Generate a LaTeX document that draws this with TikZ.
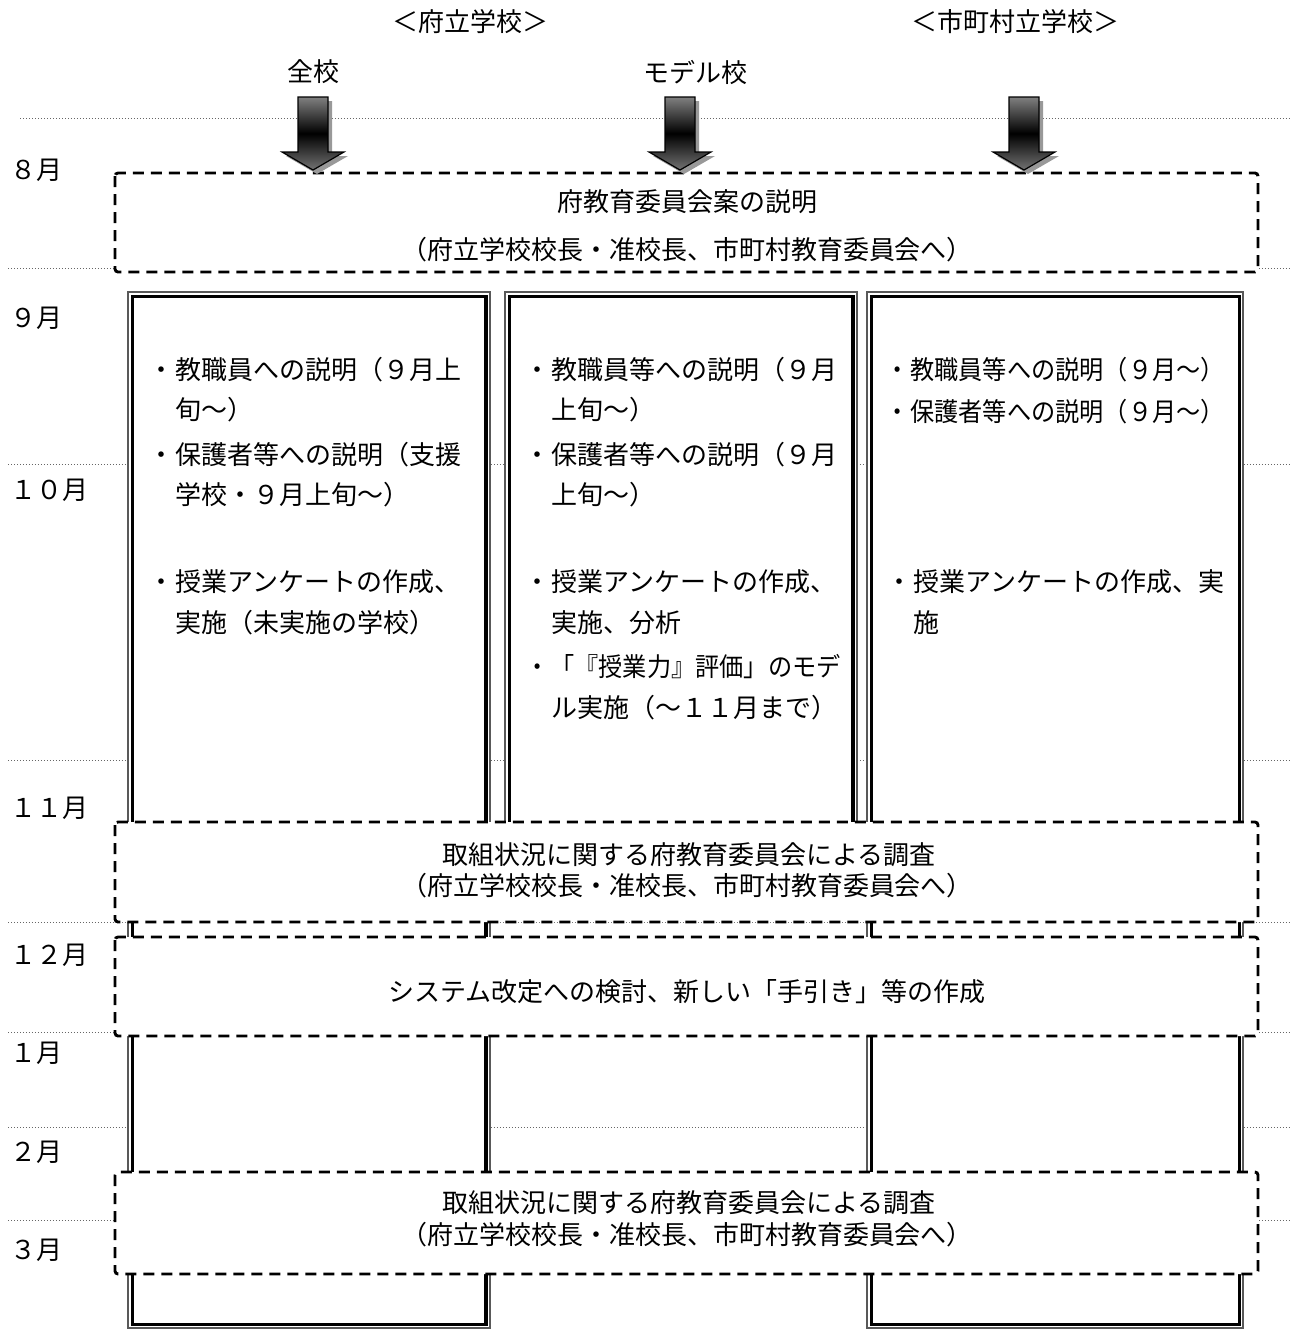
\documentclass[tikz,border=0pt]{standalone}
\usepackage{fontspec}
\setmainfont{Noto Sans CJK JP}
\usepackage{graphicx}
\newcommand\bu{\makebox[0pt][c]{・}\hspace{7pt}}
\begin{document}
\begin{tikzpicture}[x=0.5pt,y=-0.5pt,
  font=\fontsize{13pt}{15pt}\selectfont,
  gridline/.style={black!60, line width=0.45pt, dash pattern=on 0.6pt off 0.9pt},
  colouter/.style={draw=black!65, line width=0.6pt, fill=white},
  colinner/.style={draw=black, line width=1.9pt},
  dbox/.style={draw=black, line width=1.45pt, dash pattern=on 5.5pt off 3.5pt, fill=white, rounded corners=1.5pt},
  lbl/.style={inner sep=0pt, anchor=west},
  ctr/.style={inner sep=0pt},
  arrshadow/.style={fill=black!40},
  arrbody/.style={top color=black!50, bottom color=black!55, middle color=black, draw=black, line width=0.6pt}
]
\useasboundingbox (0,0) rectangle (1300,1335);
\fill[white] (0,0) rectangle (1300,1335);

% month grid lines
\foreach \yy/\xx in {118/20, 268/8, 464/8, 760/8, 922/8, 1032/8, 1127/8, 1220/8}
  \draw[gridline] (\xx,\yy) -- (1290,\yy);

% columns (thin outer + thick inner frame)
\draw[colouter] (128,292) rectangle (490,1328);
\draw[colinner] (132.5,296.5) rectangle (486,1324.5);
\draw[colouter] (505,292) rectangle (857,900);
\draw[colinner] (509.5,296.5) rectangle (853,896);
\draw[colouter] (867,292) rectangle (1243,1328);
\draw[colinner] (871.5,296.5) rectangle (1239.5,1324.5);

% headers
\node[ctr] (hfu) at (470,22) {＜府立学校＞};
\node[ctr] (hshi) at (1015,22) {＜市町村立学校＞};
\node[ctr] (hzen) at (313,72) {全校};
\node[ctr] (hmod) at (695,72) {モデル校};

% months
\node[lbl] (m8) at (10,170) {８月};
\node[lbl] (m9) at (10,318) {９月};
\node[lbl] (m10) at (10,490) {１０月};
\node[lbl] (m11) at (10,808) {１１月};
\node[lbl] (m12) at (10,955) {１２月};
\node[lbl] (m1) at (10,1053) {１月};
\node[lbl] (m2) at (10,1152) {２月};
\node[lbl] (m3) at (10,1250) {３月};

% column 1
\node[lbl] (c1a) at (161,370) {\bu 教職員への説明（９月上};
\node[lbl] (c1b) at (175,410) {旬～）};
\node[lbl] (c1c) at (161,455) {\bu 保護者等への説明（支援};
\node[lbl] (c1d) at (175,495) {学校・９月上旬～）};
\node[lbl] (c1e) at (161,582) {\bu 授業アンケートの作成、};
\node[lbl] (c1f) at (175,623) {実施（未実施の学校）};

% column 2
\node[lbl] (c2a) at (537,370) {\bu 教職員等への説明（９月};
\node[lbl] (c2b) at (551,410) {上旬～）};
\node[lbl] (c2c) at (537,455) {\bu 保護者等への説明（９月};
\node[lbl] (c2d) at (551,495) {上旬～）};
\node[lbl] (c2e) at (537,582) {\bu 授業アンケートの作成、};
\node[lbl] (c2f) at (551,623) {実施、分析};
\node[lbl] (c2g) at (537,667) {\scalebox{0.93}[1]{\bu「『授業力』評価」のモデ}};
\node[lbl] (c2h) at (551,708) {ル実施（～１１月まで）};

% column 3
\node[lbl] (c3a) at (897,370) {\scalebox{0.93}[1]{\bu 教職員等への説明（９月～）}};
\node[lbl] (c3b) at (897,412) {\scalebox{0.93}[1]{\bu 保護者等への説明（９月～）}};
\node[lbl] (c3c) at (899,582) {\bu 授業アンケートの作成、実};
\node[lbl] (c3d) at (913,623) {施};

% dashed boxes
\draw[dbox] (115,173) rectangle (1258,272);
\node[ctr] (b8a) at (687,202) {府教育委員会案の説明};
\node[ctr] (b8b) at (687,250) {（府立学校校長・准校長、市町村教育委員会へ）};

\draw[dbox] (115,822) rectangle (1258,922);
\node[ctr] (b11a) at (689,855) {取組状況に関する府教育委員会による調査};
\node[ctr] (b11b) at (687,886) {（府立学校校長・准校長、市町村教育委員会へ）};

\draw[dbox] (115,937) rectangle (1258,1036);
\node[ctr] (b12) at (687,992) {システム改定への検討、新しい「手引き」等の作成};

\draw[dbox] (115,1172) rectangle (1258,1274);
\node[ctr] (b3a) at (689,1203) {取組状況に関する府教育委員会による調査};
\node[ctr] (b3b) at (687,1235) {（府立学校校長・准校長、市町村教育委員会へ）};

% block arrows
\foreach \cx in {313, 680, 1024} {
  \fill[arrshadow] (\cx-15+4,97+4) -- (\cx+15+4,97+4) -- (\cx+15+4,152+4) -- (\cx+31+4,152+4)
     -- (\cx+4,170+4) -- (\cx-31+4,152+4) -- (\cx-15+4,152+4) -- cycle;
  \shade[arrbody] (\cx-15,97) -- (\cx+15,97) -- (\cx+15,152) -- (\cx+31,152)
     -- (\cx,170) -- (\cx-31,152) -- (\cx-15,152) -- cycle;
}
\end{tikzpicture}
\end{document}
